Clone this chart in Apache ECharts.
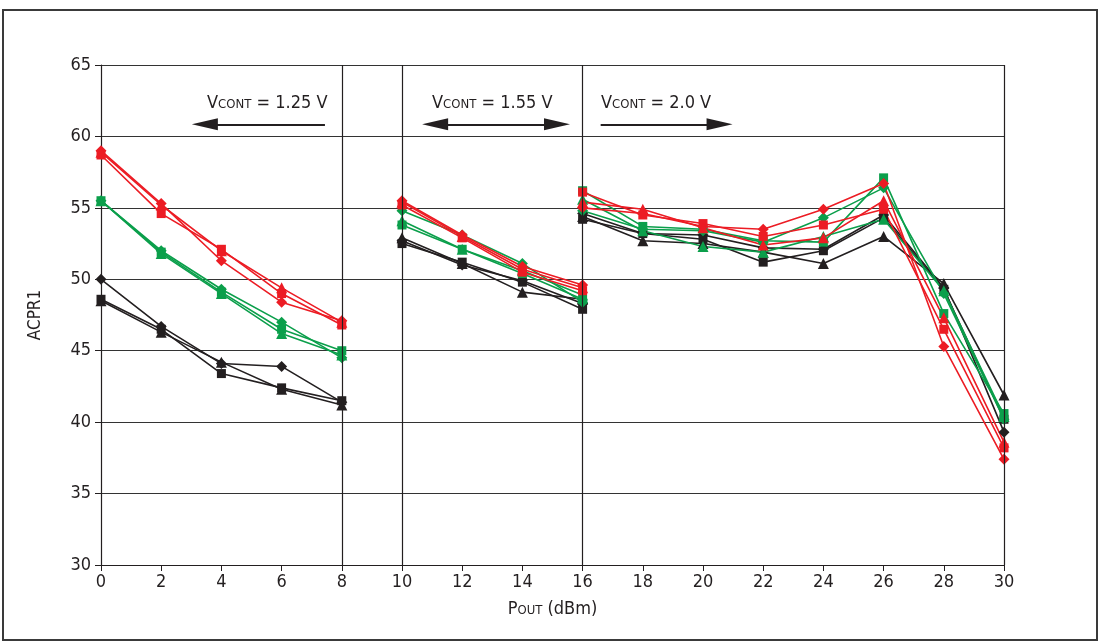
<!DOCTYPE html>
<html><head><meta charset="utf-8">
<script src="https://cdn.jsdelivr.net/npm/echarts@6/dist/echarts.min.js"></script>
<style>html,body{margin:0;padding:0;background:#fff}#c{width:1101px;height:642px}</style>
</head><body><div id="c"></div>
<script>
const FONT = "'Liberation Sans Narrow','DejaVu Sans Condensed','Liberation Sans',sans-serif";
const RED = '#ec1c24', GREEN = '#0b9f4b', BLACK = '#231f20';

const xSeg1 = [0, 2, 4, 6, 8];
const xSeg2 = [10, 12, 14, 16];
const xSeg3 = [16, 18, 20, 22, 24, 26, 28, 30];
const dividerX = [8, 10, 16, 30];

// Segment 1 (VCONT = 1.25 V)
const black1Diamond = [50.0, 46.7, 44.1, 43.9, 41.4];
const black1Square  = [48.6, 46.5, 43.4, 42.4, 41.5];
const black1Tri     = [48.5, 46.3, 44.2, 42.3, 41.2];
const green1Diamond = [55.5, 52.0, 49.3, 47.0, 44.5];
const green1Square  = [55.5, 51.9, 49.1, 46.5, 45.0];
const green1Tri     = [55.5, 51.8, 49.0, 46.2, 44.7];
const red1Diamond   = [59.0, 55.3, 51.3, 48.4, 47.1];
const red1Square    = [58.7, 54.6, 52.1, 49.0, 46.8];
const red1Tri       = [58.9, 55.2, 52.0, 49.4, 47.0];

// Segment 2 (VCONT = 1.55 V)
const black2Diamond = [52.7, 51.0, 49.9, 48.3];
const black2Square  = [52.5, 51.2, 49.8, 47.9];
const black2Tri     = [52.9, 51.1, 49.1, 48.6];
const green2Diamond = [54.8, 53.1, 51.1, 48.4];
const green2Square  = [53.8, 52.1, 50.4, 48.6];
const green2Tri     = [54.1, 52.1, 50.6, 48.9];
const red2Diamond   = [55.5, 53.1, 50.9, 49.6];
const red2Square    = [55.2, 52.9, 50.5, 49.2];
const red2Tri       = [55.4, 53.0, 50.7, 49.4];

// Segment 3 (VCONT = 2.0 V)
const black3Diamond = [54.6, 53.2, 53.1, 52.2, 52.1, 54.5, 49.4, 39.3];
const black3Square  = [54.2, 53.2, 52.8, 51.2, 52.0, 54.3, 49.3, 40.2];
const black3Tri     = [54.4, 52.7, 52.5, 51.9, 51.1, 53.0, 49.7, 41.9];
const green3Diamond = [54.8, 53.5, 53.4, 52.6, 54.3, 56.4, 49.0, 40.2];
const green3Square  = [56.2, 53.7, 53.5, 52.7, 52.6, 57.1, 47.6, 40.6];
const green3Tri     = [55.6, 53.4, 52.3, 51.9, 53.0, 54.2, 49.2, 40.4];
const red3Diamond   = [55.0, 54.6, 53.7, 53.5, 54.9, 56.7, 45.3, 37.4];
const red3Square    = [56.1, 54.5, 53.9, 53.0, 53.8, 54.9, 46.5, 38.2];
const red3Tri       = [55.4, 54.9, 53.6, 52.4, 52.9, 55.5, 47.3, 38.6];

const SYM = {diamond: ['diamond', 11], square: ['rect', 9], tri: ['triangle', 11]};
function mk(xs, ys, color, kind) {
  return {
    type: 'line', data: xs.map((x, i) => [x, ys[i]]),
    symbol: SYM[kind][0], symbolSize: SYM[kind][1], showSymbol: true,
    lineStyle: {color: color, width: 1.6}, itemStyle: {color: color, borderWidth: 0},
    emphasis: {disabled: true}, animation: false, z: 3
  };
}
const series = [];
[[xSeg1, [black1Diamond, black1Square, black1Tri], [green1Diamond, green1Square, green1Tri], [red1Diamond, red1Square, red1Tri]],
 [xSeg2, [black2Diamond, black2Square, black2Tri], [green2Diamond, green2Square, green2Tri], [red2Diamond, red2Square, red2Tri]],
 [xSeg3, [black3Diamond, black3Square, black3Tri], [green3Diamond, green3Square, green3Tri], [red3Diamond, red3Square, red3Tri]]
].forEach(seg => {
  const xs = seg[0];
  [[seg[1], BLACK], [seg[2], GREEN], [seg[3], RED]].forEach(([arrs, col]) => {
    series.push(mk(xs, arrs[0], col, 'diamond'));
    series.push(mk(xs, arrs[1], col, 'square'));
    series.push(mk(xs, arrs[2], col, 'tri'));
  });
});

// Divider lines and annotation arrows
const arrowY = 60.85;
function arrow(x1, x2, s1, s2) {
  return [{coord: [x1, arrowY], symbol: s1, symbolSize: [12, 26]}, {coord: [x2, arrowY], symbol: s2, symbolSize: [12, 26]}];
}
series.push({
  type: 'line', data: [], silent: true, animation: false,
  markLine: {
    silent: true, animation: false, symbol: 'none', label: {show: false},
    lineStyle: {color: BLACK, width: 1.2, type: 'solid'},
    data: dividerX.map(v => ({xAxis: v}))
  }
});
series.push({
  type: 'line', data: [], silent: true, animation: false,
  markLine: {
    silent: true, animation: false, label: {show: false},
    lineStyle: {color: BLACK, width: 2.2, type: 'solid'},
    itemStyle: {color: BLACK},
    data: [arrow(3.45, 7.44, 'triangle', 'none'), arrow(11.1, 15.15, 'triangle', 'triangle'), arrow(16.6, 20.55, 'none', 'triangle')]
  }
});

const rich = {
  v: {fontFamily: FONT, fontSize: 18, fill: BLACK, color: BLACK},
  c: {fontFamily: FONT, fontSize: 13, fill: BLACK, color: BLACK, padding: [3, 0, 0, 0]}
};
function annot(x, txt) {
  return {type: 'text', left: x, top: 94, z: 10,
    style: {text: '{v|V}{c|CONT}{v| = ' + txt + '}', rich: rich, font: '18px ' + FONT, fill: BLACK}};
}

const chart = echarts.init(document.getElementById('c'), null, {renderer: 'canvas'});
chart.setOption({
  backgroundColor: '#fff',
  animation: false,
  grid: {left: 101, right: 97, top: 65, bottom: 77, containLabel: false},
  xAxis: {
    type: 'value', min: 0, max: 30, interval: 2,
    axisLine: {show: true, lineStyle: {color: BLACK, width: 1.2}},
    axisTick: {show: true, inside: false, length: 6, lineStyle: {color: BLACK}},
    axisLabel: {fontFamily: FONT, fontSize: 18, color: BLACK, margin: 8},
    splitLine: {show: false},
    name: '{p|P}{o|OUT}{p| (dBm)}', nameLocation: 'middle', nameGap: 35,
    nameTextStyle: {rich: {p: {fontFamily: FONT, fontSize: 18, color: BLACK}, o: {fontFamily: FONT, fontSize: 13, color: BLACK, padding: [3, 0, 0, 0]}}}
  },
  yAxis: {
    type: 'value', min: 30, max: 65, interval: 5,
    axisLine: {show: true, lineStyle: {color: BLACK, width: 1.2}},
    axisTick: {show: true, inside: false, length: 6, lineStyle: {color: BLACK}},
    axisLabel: {fontFamily: FONT, fontSize: 18, color: BLACK, margin: 10},
    splitLine: {show: true, lineStyle: {color: '#333', width: 1.1}},
    name: 'ACPR1', nameLocation: 'middle', nameGap: 57, nameRotate: 90,
    nameTextStyle: {fontFamily: FONT, fontSize: 17, color: BLACK}
  },
  graphic: [
    {type: 'rect', shape: {x: 3, y: 10, width: 1094, height: 630}, style: {fill: 'none', stroke: '#3a3a3a', lineWidth: 2}, z: -10, silent: true},
    annot(207, '1.25 V'),
    annot(432, '1.55 V'),
    annot(601, '2.0 V')
  ],
  series: series
});
</script></body></html>
